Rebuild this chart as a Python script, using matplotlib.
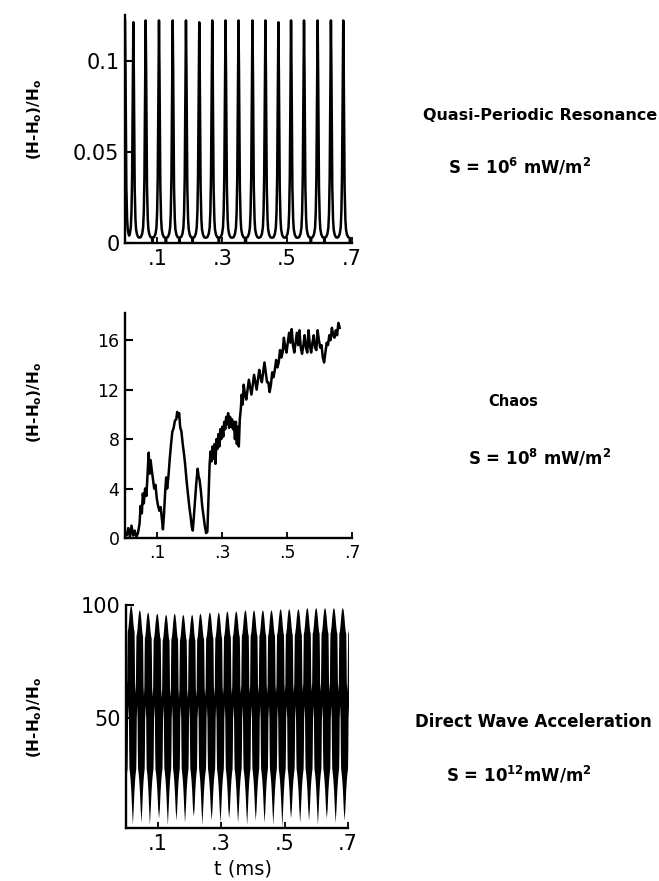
import numpy as np
import matplotlib
matplotlib.use("Agg")
import matplotlib.pyplot as plt

# ---------------- data ----------------
# Top panel: quasi-periodic resonance, spike times (ms) and heights
spike_t = [0.000, 0.0257, 0.0637, 0.1048, 0.147, 0.188, 0.229, 0.269, 0.310,
           0.350, 0.393, 0.433, 0.473, 0.512, 0.552, 0.594, 0.635, 0.673]
spike_h = [0.122, 0.121, 0.122, 0.122, 0.122, 0.122, 0.121, 0.122, 0.122,
           0.122, 0.122, 0.122, 0.121, 0.122, 0.122, 0.122, 0.122, 0.122]
# shape of one spike (offset in ms, value)
spike_dt = [-0.020, -0.015, -0.011, -0.008, -0.006, -0.004, -0.0025, -0.0012, 0.0,
            0.0012, 0.0025, 0.004, 0.006, 0.008, 0.011, 0.015, 0.020]
spike_v = [0.0028, 0.0032, 0.0048, 0.008, 0.015, 0.032, 0.068, 0.104, 0.122,
           0.104, 0.068, 0.032, 0.015, 0.008, 0.0048, 0.0032, 0.0028]

# Middle panel: chaos
mid_t = [0.000, 0.005, 0.010, 0.015, 0.020, 0.025, 0.030, 0.035, 0.040, 0.045,
         0.048, 0.052, 0.055, 0.058, 0.062, 0.066, 0.070, 0.073, 0.076, 0.079,
         0.082, 0.086, 0.090, 0.094, 0.098, 0.102, 0.106, 0.110, 0.114, 0.117,
         0.120, 0.124, 0.127, 0.130, 0.134, 0.138, 0.142, 0.146, 0.150, 0.154,
         0.158, 0.161, 0.164, 0.167, 0.170, 0.174, 0.178, 0.182, 0.186, 0.190,
         0.194, 0.198, 0.202, 0.206, 0.209, 0.212, 0.216, 0.220, 0.224, 0.227,
         0.230, 0.234, 0.238, 0.242, 0.246, 0.250, 0.254, 0.258, 0.261, 0.264,
         0.267, 0.270, 0.273, 0.276, 0.279, 0.282, 0.285, 0.288, 0.291, 0.294,
         0.297, 0.300, 0.303, 0.306, 0.309, 0.312, 0.315, 0.318, 0.321, 0.324,
         0.327, 0.330, 0.333, 0.336, 0.339, 0.342, 0.345, 0.348, 0.351, 0.354,
         0.357, 0.360, 0.363, 0.366, 0.370, 0.374, 0.378, 0.382, 0.386, 0.390,
         0.394, 0.398, 0.402, 0.406, 0.410, 0.414, 0.418, 0.422, 0.426, 0.430,
         0.434, 0.438, 0.442, 0.446, 0.450, 0.454, 0.458, 0.462, 0.466, 0.470,
         0.474, 0.478, 0.482, 0.486, 0.490, 0.494, 0.498, 0.502, 0.506, 0.510,
         0.514, 0.518, 0.522, 0.526, 0.530, 0.534, 0.538, 0.542, 0.546, 0.550,
         0.554, 0.558, 0.562, 0.566, 0.570, 0.574, 0.578, 0.582, 0.586, 0.590,
         0.594, 0.598, 0.602, 0.606, 0.610, 0.614, 0.618, 0.622, 0.626, 0.630,
         0.634, 0.638, 0.642, 0.646, 0.650, 0.654, 0.658, 0.662]
mid_v = [0.3, 0.2, 0.8, 0.1, 1.0, 0.2, 0.6, 0.1, 0.4, 1.2,
         2.6, 2.0, 3.6, 2.8, 4.0, 3.4, 5.5, 6.9, 5.2, 6.3,
         5.6, 4.8, 4.0, 4.3, 3.2, 2.6, 2.2, 2.5, 1.5, 0.7,
         1.8, 3.8, 4.9, 4.0, 5.0, 6.4, 7.6, 8.6, 8.9, 9.5,
         9.6, 10.2, 9.8, 10.1, 9.0, 8.6, 7.6, 6.8, 5.8, 4.6,
         3.6, 2.6, 1.8, 0.9, 0.6, 1.6, 3.1, 4.5, 5.6, 5.0,
         4.7, 3.8, 2.6, 1.8, 1.0, 0.4, 0.5, 3.5, 6.0, 7.0,
         6.2, 7.4, 6.4, 7.6, 6.0, 8.0, 7.2, 8.4, 7.4, 8.8,
         8.0, 9.0, 8.2, 9.4, 8.8, 9.8, 9.2, 10.1, 8.9, 9.8,
         9.0, 9.6, 8.8, 9.4, 8.0, 9.4, 7.6, 9.0, 7.4, 9.6,
         10.4, 11.6, 10.8,
         12.4, 11.6, 11.2, 12.0, 12.8, 12.2, 11.6, 12.4, 13.2, 12.6,
         12.0, 12.8, 13.6, 13.0, 12.6, 13.4, 14.2, 13.4, 12.6, 12.6,
         11.8, 12.4, 13.4, 13.0, 13.6, 14.4, 13.8, 14.2, 15.2, 14.6,
         15.0, 16.2, 15.4, 15.0, 15.8, 16.6, 15.8, 16.9, 15.6, 15.0,
         15.8, 16.6, 15.6, 16.8, 15.4, 14.9, 15.6, 16.4, 15.4, 15.0,
         16.8, 15.6, 15.0, 15.8, 16.4, 15.4, 15.2, 16.8, 16.0, 15.4,
         15.6, 14.6, 14.2, 15.0, 15.8, 15.6, 16.4, 16.0, 17.0, 16.4,
         16.2, 16.8, 16.4, 17.4, 17.0]

# Bottom panel: direct wave acceleration, slow-cycle crest times (ms)
crest_t = [-0.013, 0.0147, 0.042, 0.068, 0.097, 0.125, 0.152, 0.179, 0.207,
           0.233, 0.263, 0.291, 0.318, 0.346, 0.375, 0.402, 0.430, 0.457,
           0.486, 0.513, 0.542, 0.570, 0.598, 0.626, 0.654, 0.682, 0.710]
crest_h = [98, 100, 98, 97, 96.5, 96, 96.5, 96, 96, 96.5, 97, 97, 97.5, 97.5,
           98, 98, 98, 98, 98.5, 98.5, 98.5, 99, 99, 99, 99, 99, 99]
trough_d = [4, 3, 4, 3, 6, 3, 5, 4, 7, 3, 5, 4, 6, 4, 3, 5, 4, 3, 2, 6, 4,
            5, 3, 6, 4, 5, 4]
# envelope shapes within one cycle (phase, depth below crest / value above floor)
up_phase = [-0.5, -0.45, -0.42, -0.39, -0.33, -0.26, -0.18, -0.09, 0.0,
            0.09, 0.18, 0.26, 0.33, 0.39, 0.42, 0.45, 0.5]
up_drop = [37, 33, 20, 11.5, 10.5, 8, 4, 1, 0, 1, 4, 8, 10.5, 11.5, 20, 33, 37]
lo_phase = [-0.5, -0.45, -0.42, -0.39, -0.33, -0.26, -0.18, -0.09, 0.0,
            0.09, 0.18, 0.26, 0.33, 0.39, 0.42, 0.45, 0.5]
lo_val = [56, 50, 36, 28, 26, 23, 18, 10, None, 10, 18, 23, 26, 28, 36, 50, 56]
trough_shift = 0.2

xt = [0.1, 0.3, 0.5, 0.7]
xt_lab = ['.1', '.3', '.5', '.7']

ylabel = r"(H-H$_\mathbf{o}$)/H$_\mathbf{o}$"
titles = ["Quasi-Periodic Resonance", "Chaos", "Direct Wave Acceleration"]
powers = [r"S = 10$^\mathbf{6}$ mW/m$^\mathbf{2}$",
          r"S = 10$^\mathbf{8}$ mW/m$^\mathbf{2}$",
          r"S = 10$^\mathbf{12}$mW/m$^\mathbf{2}$"]

# ---------------- figure ----------------
W, H = 659, 881
fig = plt.figure(figsize=(W / 100, H / 100), dpi=100)
plt.rcParams['font.family'] = ['DejaVu Sans']


def ax_px(l, r, top, bot):
    return fig.add_axes([l / W, 1 - bot / H, (r - l) / W, (bot - top) / H])


def style(ax, fs):
    for s in ['top', 'right']:
        ax.spines[s].set_visible(False)
    for s in ['left', 'bottom']:
        ax.spines[s].set_linewidth(1.7)
    ax.tick_params(axis='y', direction='in', length=6, width=1.5,
                   labelsize=fs, pad=4)
    ax.tick_params(axis='x', direction='in', length=4, width=1.3,
                   labelsize=fs, pad=4)
    ax.set_xlim(0, 0.7)
    ax.set_xticks(xt)
    ax.set_xticklabels(xt_lab)


# top panel
ax1 = ax_px(125, 352, 15, 243)
grid = np.linspace(0, 0.7, 14001)
curve = np.zeros_like(grid)
shape = np.array(spike_v) / 0.122
for tc, hh in zip(spike_t, spike_h):
    curve = np.maximum(curve, np.interp(grid, tc + np.array(spike_dt),
                                        hh * shape, left=0, right=0))
ax1.plot(grid, curve, color='black', lw=1.8)
ax1.set_ylim(0, 0.125)
ax1.set_yticks([0, 0.05, 0.1])
ax1.set_yticklabels(['0', '0.05', '0.1'])
style(ax1, 15)

# middle panel
ax2 = ax_px(125, 352, 313, 538)
ax2.plot(mid_t, mid_v, color='black', lw=1.8)
ax2.set_ylim(0, 18.2)
ax2.set_yticks([0, 4, 8, 12, 16])
style(ax2, 12.5)

# bottom panel
ax3 = ax_px(126, 348, 605, 828)
n = len(crest_t)
ut, uv, lt, lv = [], [], [], []
for k in range(n):
    gl = crest_t[k] - crest_t[k - 1] if k > 0 else crest_t[1] - crest_t[0]
    gr = crest_t[k + 1] - crest_t[k] if k < n - 1 else crest_t[k] - crest_t[k - 1]
    for p, d in zip(up_phase, up_drop):
        if p == 0.5 and k < n - 1:
            continue
        ut.append(crest_t[k] + p * (gl if p < 0 else gr))
        uv.append(crest_h[k] - d)
    tc = crest_t[k] + trough_shift * gr
    for p, v in zip(lo_phase, lo_val):
        if p == 0.5 and k < n - 1:
            continue
        lt.append(tc + p * (gl if p < 0 else gr))
        lv.append(trough_d[k] if v is None else max(v, trough_d[k] + 1))
tt = np.unique(np.concatenate([ut, lt, np.linspace(-0.02, 0.72, 4000)]))
up = np.interp(tt, ut, uv)
lo = np.interp(tt, lt, lv)
ax3.fill_between(tt, lo, up, color='black', lw=0)
ax3.set_ylim(1.6, 100)
ax3.set_yticks([50, 100])
style(ax3, 15)

# labels
for yc in [119, 402, 717]:
    fig.text(35 / W, 1 - yc / H, ylabel, rotation=90, ha='center',
             va='center', fontsize=11, fontweight='bold')
fig.text(243 / W, 1 - 869 / H, "t (ms)", ha='center', va='center',
         fontsize=14)

tpos = [(540, 116), (513, 401), (533, 722)]
tsize = [11.5, 10.5, 12]
spos = [(520, 167), (540, 458), (519, 775)]
for (x, y), s, fs in zip(tpos, titles, tsize):
    fig.text(x / W, 1 - y / H, s, ha='center', va='center', fontsize=fs,
             fontweight='bold')
for (x, y), s in zip(spos, powers):
    fig.text(x / W, 1 - y / H, s, ha='center', va='center', fontsize=12,
             fontweight='bold')

fig.savefig("out.png", dpi=100)
